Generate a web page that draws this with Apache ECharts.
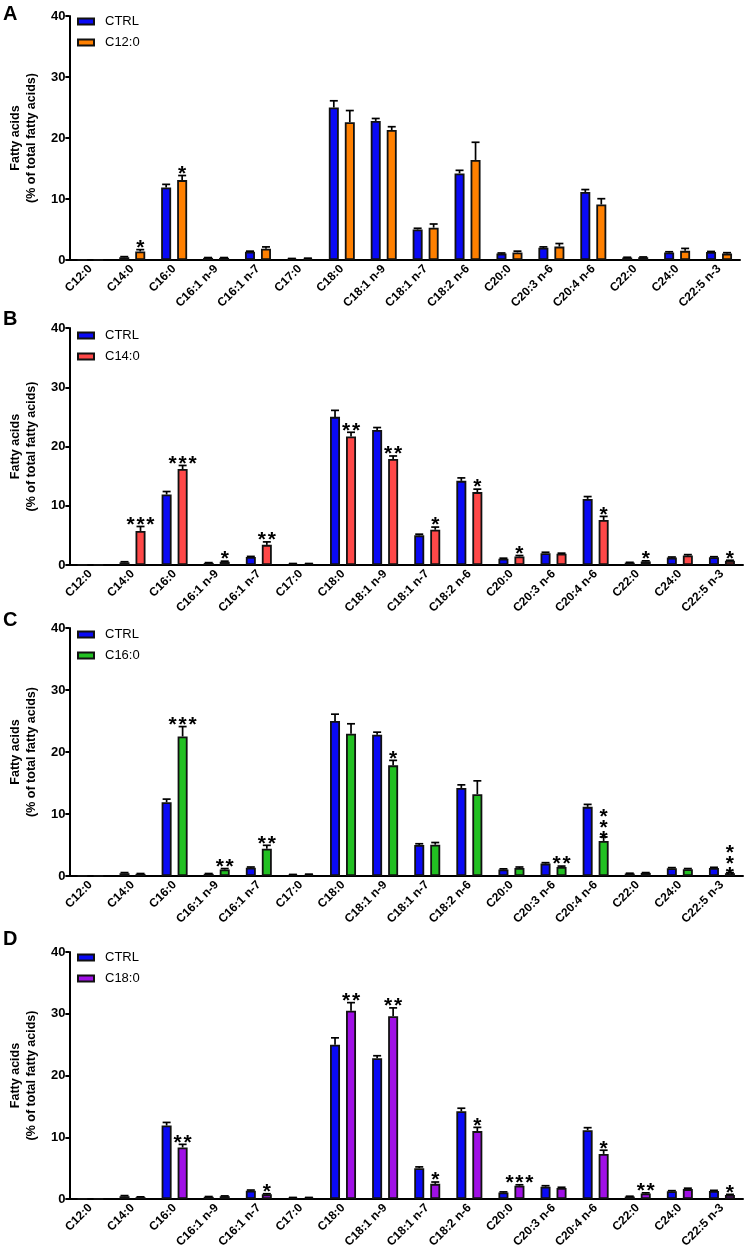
<!DOCTYPE html>
<html>
<head>
<meta charset="utf-8">
<script src="https://cdn.jsdelivr.net/npm/echarts@6/dist/echarts.min.js"></script>
<style>
html,body{margin:0;padding:0;background:#fff;}
#chart{width:747px;height:1258px;}
</style>
</head>
<body>
<div id="chart"></div>
<script>
const categories = ['C12:0','C14:0','C16:0','C16:1 n-9','C16:1 n-7','C17:0','C18:0','C18:1 n-9','C18:1 n-7','C18:2 n-6','C20:0','C20:3 n-6','C20:4 n-6','C22:0','C24:0','C22:5 n-3'];
const yTicks = [0, 10, 20, 30, 40];

const ctrlValues = [0.05, 0.45, 11.9, 0.35, 1.35, 0.2, 25.0, 22.8, 5.0, 14.2, 1.05, 2.0, 11.15, 0.4, 1.25, 1.3];
const ctrlErr    = [0, 0.1, 0.5, 0.05, 0.1, 0.05, 1.1, 0.4, 0.2, 0.5, 0.1, 0.15, 0.4, 0.05, 0.1, 0.1];
const ctrlSig    = ['', '', '', '', '', '', '', '', '', '', '', '', '', '', '', ''];

const c12Values = [0.05, 1.4, 13.1, 0.35, 1.85, 0.25, 22.6, 21.3, 5.3, 16.4, 1.25, 2.2, 9.1, 0.45, 1.5, 1.05];
const c12Err    = [0, 0.3, 0.75, 0.05, 0.3, 0.05, 1.9, 0.55, 0.6, 2.9, 0.2, 0.5, 0.95, 0.05, 0.4, 0.15];
const c12Sig    = ['', '*', '*', '', '', '', '', '', '', '', '', '', '', '', '', ''];

const c14Values = [0.05, 5.75, 16.2, 0.55, 3.4, 0.2, 21.7, 17.9, 5.95, 12.3, 1.45, 1.9, 7.6, 0.6, 1.6, 0.7];
const c14Err    = [0, 0.75, 0.6, 0.1, 0.5, 0.05, 0.7, 0.5, 0.45, 0.5, 0.15, 0.1, 0.6, 0.1, 0.15, 0.1];
const c14Sig    = ['', '***', '***', '*', '**', '', '**', '**', '*', '*', '*', '', '*', '*', '', '*'];

const c16Values = [0.05, 0.35, 22.5, 1.05, 4.4, 0.25, 22.95, 17.85, 5.05, 13.2, 1.3, 1.45, 5.65, 0.5, 1.1, 0.45];
const c16Err    = [0, 0.05, 1.6, 0.15, 0.55, 0.05, 1.6, 0.8, 0.35, 2.15, 0.15, 0.15, 0.65, 0.05, 0.1, 0.1];
const c16Sig    = ['', '', '***', '**', '**', '', '', '*', '', '', '', '**', '*\n*\n*', '', '', '*\n*\n*'];

const c18Values = [0.05, 0.3, 8.35, 0.45, 0.75, 0.2, 30.5, 29.6, 2.45, 11.0, 2.15, 1.8, 7.3, 0.9, 1.6, 0.65];
const c18Err    = [0, 0.05, 0.5, 0.05, 0.1, 0.05, 1.3, 1.35, 0.3, 0.6, 0.15, 0.1, 0.6, 0.1, 0.15, 0.1];
const c18Sig    = ['', '', '**', '', '*', '', '**', '**', '*', '*', '***', '', '*', '**', '', '*'];

const FONT = 'Arial, "Liberation Sans", Helvetica, sans-serif';
const CTRL_COLOR = '#0A0AF5';

const panels = [
  {letter:'A', name:'C12:0', color:'#FF8000', values:c12Values, err:c12Err, sig:c12Sig, left:62, top:16, height:244, letterY:4, legendTop:10},
  {letter:'B', name:'C14:0', color:'#FF4848', values:c14Values, err:c14Err, sig:c14Sig, left:65, top:328, height:237, letterY:309, legendTop:324},
  {letter:'C', name:'C16:0', color:'#22C022', values:c16Values, err:c16Err, sig:c16Sig, left:65, top:628, height:248, letterY:610, legendTop:623},
  {letter:'D', name:'C18:0', color:'#A010E6', values:c18Values, err:c18Err, sig:c18Sig, left:65, top:952, height:247, letterY:929, legendTop:946}
];

const grids = [], xAxes = [], yAxes = [], series = [], legends = [], graphics = [];

function errRender(offset, sigs) {
  return function (params, api) {
    const idx = api.value(0), val = api.value(1), e = api.value(2);
    const sig = sigs[params.dataIndex] || '';
    const base = api.coord([idx, val]);
    const top = api.coord([idx, val + e]);
    const x = base[0] + offset;
    const children = [];
    if (e > 0) {
      children.push({type:'line', shape:{x1:x, y1:base[1], x2:x, y2:top[1]}, style:{stroke:'#000', lineWidth:1.7}});
      children.push({type:'line', shape:{x1:x-4, y1:top[1], x2:x+4, y2:top[1]}, style:{stroke:'#000', lineWidth:1.7}});
    }
    if (sig) {
      const multi = sig.indexOf('\n') >= 0;
      const txt = multi ? sig : sig.split('').join('\u200A');
      children.push({type:'text', style:{text:txt, x:x, y:top[1] + (multi ? 8 : 9), align:'center', verticalAlign:'bottom',
        fontSize:21, fontWeight:'bold', fontFamily:FONT, fill:'#000', lineHeight: multi ? 11 : 21}});
    }
    return {type:'group', children};
  };
}

panels.forEach((p, i) => {
  grids.push({left:p.left, top:p.top, width:678, height:p.height});
  xAxes.push({
    type:'category', gridIndex:i, data:categories,
    axisLine:{lineStyle:{color:'#000', width:2}},
    axisTick:{alignWithLabel:true, length:5, lineStyle:{color:'#000', width:2}},
    axisLabel:{rotate:45, color:'#000', fontSize:12, fontWeight:'bold', fontFamily:FONT, margin:7, interval:0}
  });
  yAxes.push({
    type:'value', gridIndex:i, min:yTicks[0], max:yTicks[yTicks.length-1], interval:10,
    name:'Fatty acids\n(% of total fatty acids)', nameLocation:'middle', nameGap:20,
    nameTextStyle:{fontSize:12.5, fontWeight:'bold', fontFamily:FONT, color:'#000', lineHeight:16},
    axisLine:{show:true, lineStyle:{color:'#000', width:2}},
    axisTick:{show:true, length:4, lineStyle:{color:'#000', width:2}},
    axisLabel:{color:'#000', fontSize:13, fontWeight:'bold', fontFamily:FONT, margin:4},
    splitLine:{show:false}
  });
  series.push({
    name:'CTRL', type:'bar', xAxisIndex:i, yAxisIndex:i, data:ctrlValues, barWidth:10, barGap:'60%',
    itemStyle:{color:CTRL_COLOR, borderColor:'#111', borderWidth:1.8}
  });
  series.push({
    name:p.name, type:'bar', xAxisIndex:i, yAxisIndex:i, data:p.values, barWidth:10, barGap:'60%',
    itemStyle:{color:p.color, borderColor:'#111', borderWidth:1.8}
  });
  series.push({
    name:'errCtrl'+i, type:'custom', xAxisIndex:i, yAxisIndex:i, z:5,
    data:ctrlValues.map((v,k)=>[k, v, ctrlErr[k]]),
    renderItem:errRender(-8, ctrlSig), encode:{x:0, y:1}
  });
  series.push({
    name:'errTrt'+i, type:'custom', xAxisIndex:i, yAxisIndex:i, z:5,
    data:p.values.map((v,k)=>[k, v, p.err[k]]),
    renderItem:errRender(8, p.sig), encode:{x:0, y:1}
  });
  legends.push({
    data:['CTRL', p.name], orient:'vertical', left:72, top:p.legendTop,
    icon:'rect', itemWidth:16, itemHeight:6, itemGap:8, selectedMode:false,
    textStyle:{fontSize:13, fontFamily:FONT, color:'#000', padding:[0,0,0,6]}
  });
  graphics.push({type:'text', left:3, top:p.letterY, style:{text:p.letter, fontSize:20, fontWeight:'bold', fontFamily:FONT, fill:'#000'}});
});

const chart = echarts.init(document.getElementById('chart'), null, {renderer:'canvas'});
chart.setOption({
  animation:false,
  backgroundColor:'#fff',
  grid:grids, xAxis:xAxes, yAxis:yAxes, series:series, legend:legends, graphic:graphics
});
</script>
</body>
</html>
